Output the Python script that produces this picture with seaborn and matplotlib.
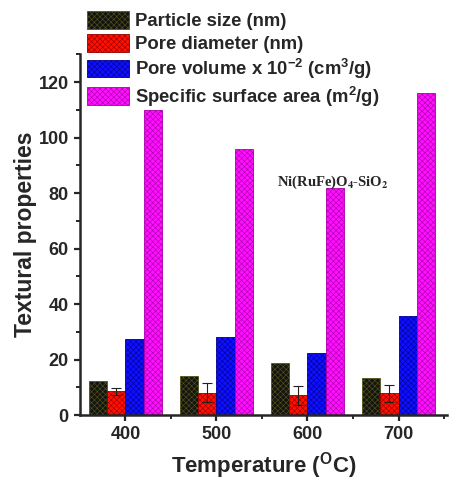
import matplotlib
matplotlib.use("Agg")
import matplotlib.pyplot as plt
import seaborn as sns
import pandas as pd
from matplotlib.ticker import MultipleLocator, FixedLocator

temperatures = ["400", "500", "600", "700"]
properties = [
    "Particle size (nm)",
    "Pore diameter (nm)",
    "Pore volume x 10$^{-2}$ (cm$^{3}$/g)",
    "Specific surface area (m$^{2}$/g)",
]
particle_size = [12.4, 14.0, 18.9, 13.2]
pore_diameter = [8.5, 8.0, 7.2, 7.8]
pore_diameter_err = [1.1, 3.4, 3.4, 3.0]
pore_volume = [27.5, 28.1, 22.2, 35.7]
surface_area = [110, 96, 82, 116]

fill_colors = ["#141410", "#ff1000", "#1010ff", "#ff10ff"]
hatch_colors = ["#55551c", "#900000", "#000090", "#a800a8"]

series = [particle_size, pore_diameter, pore_volume, surface_area]
rows = []
for prop, vals in zip(properties, series):
    for t, v in zip(temperatures, vals):
        rows.append({"Temperature": t, "property": prop, "value": v})
df = pd.DataFrame(rows)

sns.set_style("ticks")
plt.rcParams["font.family"] = ["Liberation Sans", "DejaVu Sans"]
plt.rcParams["font.weight"] = "bold"
plt.rcParams["mathtext.fontset"] = "custom"
plt.rcParams["mathtext.rm"] = "Liberation Sans:bold"
plt.rcParams["mathtext.bf"] = "Liberation Sans:bold"
plt.rcParams["mathtext.it"] = "Liberation Sans:bold:italic"
plt.rcParams["mathtext.default"] = "rm"
plt.rcParams["hatch.linewidth"] = 0.4

fig = plt.figure(figsize=(4.49, 4.86), dpi=100)
ax = fig.add_axes([0.178, 0.146, 0.817, 0.742])

sns.barplot(data=df, x="Temperature", y="value", hue="property",
            hue_order=properties, order=temperatures,
            palette=fill_colors, width=0.8, errorbar=None,
            saturation=1, legend=False, ax=ax)

bar_containers = list(ax.containers)
for cont, hc in zip(bar_containers, hatch_colors):
    for bar in cont.patches:
        bar.set_hatch("xxxxxx")
        bar.set_edgecolor(hc)
        bar.set_linewidth(0.6)

red = bar_containers[1]
xs = [b.get_x() + b.get_width() / 2 for b in red.patches]
hs = [b.get_height() for b in red.patches]
ax.errorbar(xs, hs, yerr=pore_diameter_err, fmt="none", ecolor="#202020",
            elinewidth=0.8, capsize=3.5, capthick=0.8, zorder=5)

ax.set_xlim(-0.5, 3.53)
ax.set_ylim(0, 130)
ax.yaxis.set_major_locator(MultipleLocator(20))
ax.yaxis.set_minor_locator(MultipleLocator(10))
ax.xaxis.set_minor_locator(FixedLocator([0.5, 1.5, 2.5, 3.5]))
sns.despine(ax=ax)
for s in ["left", "bottom"]:
    ax.spines[s].set_linewidth(1.8)
ax.tick_params(which="major", length=4.5, width=1.6, labelsize=13, direction="out")
ax.tick_params(which="minor", length=2.8, width=1.4, direction="out")
for lab in ax.get_xticklabels() + ax.get_yticklabels():
    lab.set_fontweight("bold")

ax.set_xlabel("Temperature ($^{O}$C)", fontsize=16, fontweight="bold", labelpad=5)
ax.set_ylabel("Textural properties", fontsize=16.5, fontweight="bold", labelpad=1)

ax.text(1.67, 84, r"Ni(RuFe)O$_{\mathbf{4}}$-SiO$_{\mathbf{2}}$",
        family="Liberation Serif", fontweight="bold", fontsize=10.5,
        va="center", ha="left", math_fontfamily="stix")

handles = [c.patches[0] for c in bar_containers]
leg = fig.legend(handles, properties, loc="upper left",
                 bbox_to_anchor=(87 / 449, 1 - 11 / 486), frameon=False,
                 prop={"family": "Liberation Sans", "weight": "bold", "size": 13.3},
                 handlelength=2.28, handleheight=1.1, labelspacing=0.2,
                 handletextpad=0.33, borderpad=0, borderaxespad=0)

fig.savefig("out.png", dpi=100)
